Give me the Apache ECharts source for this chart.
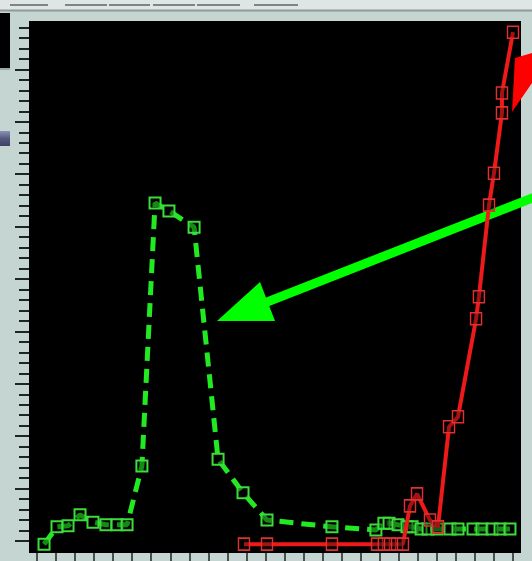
<!DOCTYPE html>
<html><head><meta charset="utf-8">
<script src="https://cdn.jsdelivr.net/npm/echarts@6/dist/echarts.min.js"></script>
<style>html,body{margin:0;padding:0;background:#c5d5d2;overflow:hidden}#c{width:532px;height:561px}</style>
</head><body><div id="c"></div>
<script>
// x in tick units (0..25), y in axis units (major tick = 10)
const greenX = [0.37,1.05,1.63,2.26,2.94,3.62,4.20,4.73,5.51,6.20,6.93,8.25,9.51,10.82,12.08,15.49,17.80,18.22,18.49,18.96,19.43,19.70,20.17,20.54,21.01,21.69,22.11,22.90,23.37,23.90,24.32,24.84];
const greenY = [-0.6,2.7,2.9,5.0,3.6,3.1,3.1,3.1,14.3,64.5,63.0,59.9,15.6,9.2,4.0,2.7,2.1,3.4,3.4,3.1,2.7,2.7,2.3,2.3,2.3,2.3,2.3,2.3,2.3,2.3,2.3,2.3];
const redX = [10.87,12.08,15.49,17.86,18.22,18.54,18.91,19.22,19.59,19.96,20.64,21.06,21.64,22.11,23.06,23.21,23.74,24.00,24.42,24.42,25.0];
const redY = [-0.6,-0.6,-0.6,-0.6,-0.6,-0.6,-0.6,-0.6,6.7,9.0,4.0,2.7,21.8,23.7,42.4,46.6,64.1,70.2,81.7,85.5,97.1];
const xTickMax = 25;
const yTickMax = 100;

const greenData = greenX.map((x,i)=>[x,greenY[i]]);
const redData = redX.map((x,i)=>[x,redY[i]]);

const chart = echarts.init(document.getElementById('c'), null, {renderer:'canvas'});
const segs = [[10,48],[65,107],[109,150],[153,195],[197,240],[254,298]];
const chrome = [
  {type:'rect', shape:{x:0,y:0,width:532,height:10}, style:{fill:'#dfe5e4'}, z:50},
  ...segs.map(s=>({type:'line', shape:{x1:s[0],y1:5,x2:s[1],y2:5}, style:{stroke:'#5a6664',lineWidth:1.5}, z:51})),
  {type:'line', shape:{x1:0,y1:10.5,x2:532,y2:10.5}, style:{stroke:'#8d9b99',lineWidth:2}, z:51},
  {type:'rect', shape:{x:10,y:11,width:19,height:10}, style:{fill:'#c5d5d2'}, z:50},
  {type:'rect', shape:{x:0,y:13,width:10,height:55}, style:{fill:'#000'}, z:50},
  {type:'rect', shape:{x:0,y:68,width:10,height:2}, style:{fill:'#9aa8a6'}, z:50},
  {type:'rect', shape:{x:0,y:131,width:10,height:15}, style:{fill:new echarts.graphic.LinearGradient(0,0,0,1,[{offset:0,color:'#8c8fb8'},{offset:0.5,color:'#55587e'},{offset:1,color:'#3e4066'}])}, z:50}
];
const hidden = {axisLine:{show:false},axisLabel:{show:false},splitLine:{show:false},axisTick:{show:false}};
const tickStyle = {color:'#1e2422',width:2};
const option = {
  animation:false,
  backgroundColor:'#c5d5d2',
  grid:[
    {left:29,right:11,top:21,bottom:8,show:true,backgroundColor:'#000',borderWidth:0},
    {left:37,right:19,top:543,bottom:8},
    {left:29,width:10,top:17,bottom:20}
  ],
  xAxis:[
    {type:'value',gridIndex:0,min:-0.42,max:25.42,...hidden},
    {type:'value',gridIndex:1,min:0,max:xTickMax,interval:1,position:'bottom',
      axisLine:{show:false},axisLabel:{show:false},splitLine:{show:false},
      axisTick:{show:true,inside:false,length:8,lineStyle:{color:'#1e2422',width:1.5}}},
    {type:'value',gridIndex:2,min:0,max:1,...hidden}
  ],
  yAxis:[
    {type:'value',gridIndex:0,min:-2.29,max:99.24,...hidden},
    {type:'value',gridIndex:1,min:0,max:1,...hidden},
    {type:'value',gridIndex:2,min:0,max:yTickMax,interval:10,position:'left',
      axisLine:{show:false},axisLabel:{show:false},splitLine:{show:false},
      axisTick:{show:true,inside:false,length:14,lineStyle:tickStyle},
      minorTick:{show:true,splitNumber:5,length:10,lineStyle:tickStyle}}
  ],
  graphic:{elements:[
    {type:'line', shape:{x1:540,y1:195,x2:262,y2:304}, style:{stroke:'#00ff00',lineWidth:9}, z:1},
    {type:'polygon', shape:{points:[[217,321],[260,282],[275,321]]}, style:{fill:'#00ff00'}, z:1},
    {type:'polygon', shape:{points:[[515,58],[532,53],[532,83],[512,112]]}, style:{fill:'#ff0000'}, z:1},
    ...chrome
  ]},
  series:[
    {type:'line', xAxisIndex:0, yAxisIndex:0, data:greenData, clip:false, symbol:'rect', symbolSize:[11,11], showAllSymbol:true,
      lineStyle:{color:'#22ea22',width:5,type:[14,8]},
      itemStyle:{color:'rgba(0,0,0,0.4)',borderColor:'#3ddc3d',borderWidth:2}, z:2},
    {type:'line', xAxisIndex:0, yAxisIndex:0, data:redData, clip:false, symbol:'rect', symbolSize:[11,12], showAllSymbol:true,
      lineStyle:{color:'#ee1a1a',width:4},
      itemStyle:{color:'rgba(0,0,0,0.3)',borderColor:'#e03030',borderWidth:1.5}, z:3}
  ]
};
chart.setOption(option);
</script></body></html>
